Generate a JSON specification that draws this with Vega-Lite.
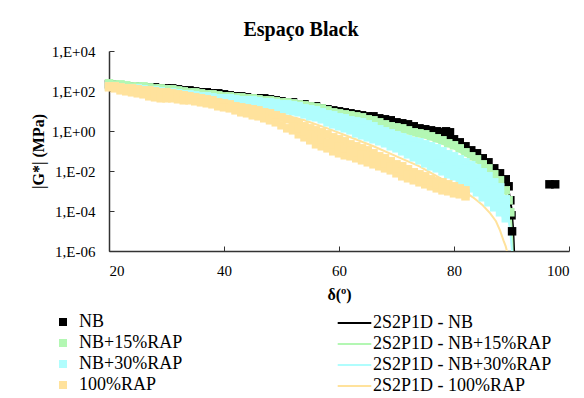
{
"$schema":"https://vega.github.io/schema/vega-lite/v6.json",
"autosize":{"type":"none"},
"padding":{"left":109,"top":51,"right":15,"bottom":147},
"width":460,"height":200,
"title":{"text":"Espaço Black","font":"Liberation Serif","fontSize":20,"fontWeight":"bold","color":"#000","anchor":"middle","frame":"group","dx":-38,"baseline":"alphabetic","offset":-12},
"config":{"font":"Liberation Serif","view":{"stroke":null},
 "style":{"guide-label":{"font":"Liberation Serif"},"guide-title":{"font":"Liberation Serif"}},
 "axis":{"labelFont":"Liberation Serif","titleFont":"Liberation Serif","labelColor":"#000","titleColor":"#000","domainColor":"#333","tickColor":"#333","domainWidth":1.5,"grid":false,"labelFontSize":15,"titleFontSize":16,"titleFontWeight":"bold"},
 "legend":{"labelFont":"Liberation Serif","labelFontSize":18,"labelColor":"#000","labelLimit":400}},
"datasets":{
"pts":[
{"series":"NB","delta":20,"G":216},{"series":"NB","delta":21,"G":216},{"series":"NB","delta":22,"G":193},{"series":"NB","delta":23,"G":172},{"series":"NB","delta":24,"G":172},{"series":"NB","delta":25,"G":172},{"series":"NB","delta":26,"G":153},{"series":"NB","delta":27,"G":153},{"series":"NB","delta":28,"G":153},{"series":"NB","delta":29,"G":136},{"series":"NB","delta":30,"G":136},{"series":"NB","delta":31,"G":136},{"series":"NB","delta":32,"G":122},{"series":"NB","delta":33,"G":108},{"series":"NB","delta":34,"G":108},{"series":"NB","delta":35,"G":96.6},{"series":"NB","delta":36,"G":86.1},{"series":"NB","delta":37,"G":86.1},{"series":"NB","delta":38,"G":76.7},{"series":"NB","delta":39,"G":76.7},{"series":"NB","delta":40,"G":68.4},{"series":"NB","delta":41,"G":61.0},{"series":"NB","delta":42,"G":54.3},{"series":"NB","delta":43,"G":54.3},{"series":"NB","delta":44,"G":48.4},{"series":"NB","delta":45,"G":43.2},{"series":"NB","delta":46,"G":43.2},{"series":"NB","delta":47,"G":43.2},{"series":"NB","delta":48,"G":38.5},{"series":"NB","delta":49,"G":34.3},{"series":"NB","delta":50,"G":30.6},{"series":"NB","delta":51,"G":27.2},{"series":"NB","delta":52,"G":27.2},{"series":"NB","delta":53,"G":21.6},{"series":"NB","delta":54,"G":21.6},{"series":"NB","delta":55,"G":17.2},{"series":"NB","delta":56,"G":17.2},{"series":"NB","delta":57,"G":13.6},{"series":"NB","delta":58,"G":12.2},{"series":"NB","delta":59,"G":10.8},{"series":"NB","delta":60,"G":9.66},{"series":"NB","delta":61,"G":8.61},{"series":"NB","delta":62,"G":7.67},{"series":"NB","delta":63,"G":6.84},{"series":"NB","delta":64,"G":6.10},{"series":"NB","delta":65,"G":5.43},{"series":"NB","delta":66,"G":5.43},{"series":"NB","delta":67,"G":4.32},{"series":"NB","delta":68,"G":3.85},{"series":"NB","delta":69,"G":3.43},{"series":"NB","delta":70,"G":2.72},{"series":"NB","delta":71,"G":2.43},{"series":"NB","delta":72,"G":2.16},{"series":"NB","delta":73,"G":1.72},{"series":"NB","delta":74,"G":1.36},{"series":"NB","delta":75,"G":1.22},{"series":"NB","delta":76,"G":1.08},{"series":"NB","delta":77,"G":0.966},{"series":"NB","delta":78,"G":0.861},{"series":"NB","delta":78.6,"G":0.966},{"series":"NB","delta":79.3,"G":0.861},{"series":"NB","delta":79,"G":0.543},{"series":"NB","delta":80,"G":0.385},{"series":"NB","delta":81,"G":0.272},{"series":"NB","delta":82,"G":0.172},{"series":"NB","delta":83,"G":0.108},{"series":"NB","delta":84,"G":0.0767},{"series":"NB","delta":85,"G":0.0432},{"series":"NB","delta":86,"G":0.0272},{"series":"NB","delta":87,"G":0.0136},{"series":"NB","delta":88,"G":0.00767},{"series":"NB","delta":89,"G":0.00385},{"series":"NB","delta":89.5,"G":0.00172},{"series":"NB","delta":89.8,"G":3.43e-4},{"series":"NB","delta":90,"G":6.10e-5},{"series":"NB","delta":90.1,"G":9.66e-6},{"series":"NB","delta":96.6,"G":0.00216},{"series":"NB","delta":97.6,"G":0.00216},
{"series":"NB+15%RAP","delta":20,"G":243},{"series":"NB+15%RAP","delta":21,"G":216},{"series":"NB+15%RAP","delta":22,"G":216},{"series":"NB+15%RAP","delta":23,"G":193},{"series":"NB+15%RAP","delta":24,"G":172},{"series":"NB+15%RAP","delta":25,"G":172},{"series":"NB+15%RAP","delta":26,"G":172},{"series":"NB+15%RAP","delta":27,"G":153},{"series":"NB+15%RAP","delta":28,"G":136},{"series":"NB+15%RAP","delta":29,"G":136},{"series":"NB+15%RAP","delta":30,"G":122},{"series":"NB+15%RAP","delta":31,"G":122},{"series":"NB+15%RAP","delta":32,"G":108},{"series":"NB+15%RAP","delta":33,"G":96.6},{"series":"NB+15%RAP","delta":34,"G":86.1},{"series":"NB+15%RAP","delta":35,"G":86.1},{"series":"NB+15%RAP","delta":36,"G":76.7},{"series":"NB+15%RAP","delta":37,"G":68.4},{"series":"NB+15%RAP","delta":38,"G":68.4},{"series":"NB+15%RAP","delta":39,"G":61.0},{"series":"NB+15%RAP","delta":40,"G":54.3},{"series":"NB+15%RAP","delta":41,"G":54.3},{"series":"NB+15%RAP","delta":42,"G":48.4},{"series":"NB+15%RAP","delta":43,"G":48.4},{"series":"NB+15%RAP","delta":44,"G":43.2},{"series":"NB+15%RAP","delta":45,"G":43.2},{"series":"NB+15%RAP","delta":46,"G":38.5},{"series":"NB+15%RAP","delta":47,"G":34.3},{"series":"NB+15%RAP","delta":48,"G":34.3},{"series":"NB+15%RAP","delta":49,"G":30.6},{"series":"NB+15%RAP","delta":50,"G":27.2},{"series":"NB+15%RAP","delta":51,"G":27.2},{"series":"NB+15%RAP","delta":52,"G":24.3},{"series":"NB+15%RAP","delta":53,"G":21.6},{"series":"NB+15%RAP","delta":54,"G":19.3},{"series":"NB+15%RAP","delta":55,"G":17.2},{"series":"NB+15%RAP","delta":56,"G":15.3},{"series":"NB+15%RAP","delta":57,"G":13.6},{"series":"NB+15%RAP","delta":58,"G":10.8},{"series":"NB+15%RAP","delta":59,"G":8.61},{"series":"NB+15%RAP","delta":60,"G":7.67},{"series":"NB+15%RAP","delta":61,"G":6.84},{"series":"NB+15%RAP","delta":62,"G":6.10},{"series":"NB+15%RAP","delta":63,"G":5.43},{"series":"NB+15%RAP","delta":64,"G":4.84},{"series":"NB+15%RAP","delta":65,"G":3.85},{"series":"NB+15%RAP","delta":66,"G":3.43},{"series":"NB+15%RAP","delta":67,"G":2.72},{"series":"NB+15%RAP","delta":68,"G":2.16},{"series":"NB+15%RAP","delta":69,"G":1.72},{"series":"NB+15%RAP","delta":70,"G":1.53},{"series":"NB+15%RAP","delta":71,"G":1.36},{"series":"NB+15%RAP","delta":72,"G":1.08},{"series":"NB+15%RAP","delta":73,"G":0.861},{"series":"NB+15%RAP","delta":74,"G":0.767},{"series":"NB+15%RAP","delta":75,"G":0.684},{"series":"NB+15%RAP","delta":76,"G":0.543},{"series":"NB+15%RAP","delta":77,"G":0.432},{"series":"NB+15%RAP","delta":78,"G":0.343},{"series":"NB+15%RAP","delta":79,"G":0.243},{"series":"NB+15%RAP","delta":80,"G":0.193},{"series":"NB+15%RAP","delta":81,"G":0.136},{"series":"NB+15%RAP","delta":82,"G":0.0861},{"series":"NB+15%RAP","delta":83,"G":0.0543},{"series":"NB+15%RAP","delta":84,"G":0.0385},{"series":"NB+15%RAP","delta":85,"G":0.0216},{"series":"NB+15%RAP","delta":86,"G":0.0136},{"series":"NB+15%RAP","delta":87,"G":0.00684},{"series":"NB+15%RAP","delta":88,"G":0.00343},{"series":"NB+15%RAP","delta":89,"G":0.00108},{"series":"NB+15%RAP","delta":89.5,"G":3.43e-4},{"series":"NB+15%RAP","delta":89.8,"G":8.61e-5},
{"series":"NB+30%RAP","delta":20,"G":172},{"series":"NB+30%RAP","delta":21,"G":172},{"series":"NB+30%RAP","delta":22,"G":153},{"series":"NB+30%RAP","delta":23,"G":136},{"series":"NB+30%RAP","delta":24,"G":136},{"series":"NB+30%RAP","delta":25,"G":136},{"series":"NB+30%RAP","delta":26,"G":122},{"series":"NB+30%RAP","delta":27,"G":108},{"series":"NB+30%RAP","delta":28,"G":108},{"series":"NB+30%RAP","delta":29,"G":96.6},{"series":"NB+30%RAP","delta":30,"G":86.1},{"series":"NB+30%RAP","delta":31,"G":86.1},{"series":"NB+30%RAP","delta":32,"G":76.7},{"series":"NB+30%RAP","delta":33,"G":68.4},{"series":"NB+30%RAP","delta":34,"G":68.4},{"series":"NB+30%RAP","delta":35,"G":61.0},{"series":"NB+30%RAP","delta":36,"G":54.3},{"series":"NB+30%RAP","delta":37,"G":54.3},{"series":"NB+30%RAP","delta":38,"G":48.4},{"series":"NB+30%RAP","delta":39,"G":43.2},{"series":"NB+30%RAP","delta":40,"G":43.2},{"series":"NB+30%RAP","delta":41,"G":43.2},{"series":"NB+30%RAP","delta":42,"G":38.5},{"series":"NB+30%RAP","delta":43,"G":34.3},{"series":"NB+30%RAP","delta":44,"G":34.3},{"series":"NB+30%RAP","delta":45,"G":34.3},{"series":"NB+30%RAP","delta":46,"G":30.6},{"series":"NB+30%RAP","delta":47,"G":27.2},{"series":"NB+30%RAP","delta":48,"G":27.2},{"series":"NB+30%RAP","delta":49,"G":24.3},{"series":"NB+30%RAP","delta":50,"G":21.6},{"series":"NB+30%RAP","delta":51,"G":21.6},{"series":"NB+30%RAP","delta":52,"G":19.3},{"series":"NB+30%RAP","delta":53,"G":17.2},{"series":"NB+30%RAP","delta":54,"G":13.6},{"series":"NB+30%RAP","delta":55,"G":12.2},{"series":"NB+30%RAP","delta":56,"G":10.8},{"series":"NB+30%RAP","delta":57,"G":8.61},{"series":"NB+30%RAP","delta":58,"G":6.84},{"series":"NB+30%RAP","delta":59,"G":6.10},{"series":"NB+30%RAP","delta":60,"G":4.84},{"series":"NB+30%RAP","delta":61,"G":4.32},{"series":"NB+30%RAP","delta":62,"G":3.43},{"series":"NB+30%RAP","delta":63,"G":3.06},{"series":"NB+30%RAP","delta":64,"G":2.72},{"series":"NB+30%RAP","delta":65,"G":2.16},{"series":"NB+30%RAP","delta":66,"G":1.72},{"series":"NB+30%RAP","delta":67,"G":1.22},{"series":"NB+30%RAP","delta":68,"G":0.966},{"series":"NB+30%RAP","delta":69,"G":0.767},{"series":"NB+30%RAP","delta":70,"G":0.610},{"series":"NB+30%RAP","delta":71,"G":0.484},{"series":"NB+30%RAP","delta":72,"G":0.385},{"series":"NB+30%RAP","delta":73,"G":0.306},{"series":"NB+30%RAP","delta":74,"G":0.272},{"series":"NB+30%RAP","delta":75,"G":0.216},{"series":"NB+30%RAP","delta":76,"G":0.172},{"series":"NB+30%RAP","delta":77,"G":0.136},{"series":"NB+30%RAP","delta":78,"G":0.0966},{"series":"NB+30%RAP","delta":79,"G":0.0684},{"series":"NB+30%RAP","delta":80,"G":0.0543},{"series":"NB+30%RAP","delta":81,"G":0.0385},{"series":"NB+30%RAP","delta":82,"G":0.0272},{"series":"NB+30%RAP","delta":83,"G":0.0193},{"series":"NB+30%RAP","delta":84,"G":0.0136},{"series":"NB+30%RAP","delta":85,"G":0.00861},{"series":"NB+30%RAP","delta":86,"G":0.00543},{"series":"NB+30%RAP","delta":87,"G":0.00272},{"series":"NB+30%RAP","delta":88,"G":0.00153},{"series":"NB+30%RAP","delta":89,"G":3.85e-4},
{"series":"NB+30%RAP","delta":36,"G":48.4},{"series":"NB+30%RAP","delta":37,"G":43.2},{"series":"NB+30%RAP","delta":38,"G":43.2},{"series":"NB+30%RAP","delta":39,"G":38.5},{"series":"NB+30%RAP","delta":40,"G":30.6},{"series":"NB+30%RAP","delta":41,"G":27.2},{"series":"NB+30%RAP","delta":42,"G":27.2},{"series":"NB+30%RAP","delta":43,"G":24.3},{"series":"NB+30%RAP","delta":44,"G":21.6},{"series":"NB+30%RAP","delta":45,"G":19.3},{"series":"NB+30%RAP","delta":46,"G":17.2},{"series":"NB+30%RAP","delta":47,"G":17.2},{"series":"NB+30%RAP","delta":48,"G":15.3},{"series":"NB+30%RAP","delta":49,"G":13.6},{"series":"NB+30%RAP","delta":50,"G":12.2},{"series":"NB+30%RAP","delta":51,"G":10.8},{"series":"NB+30%RAP","delta":52,"G":9.66},{"series":"NB+30%RAP","delta":53,"G":8.61},{"series":"NB+30%RAP","delta":54,"G":6.84},{"series":"NB+30%RAP","delta":55,"G":5.43},{"series":"NB+30%RAP","delta":56,"G":4.84},{"series":"NB+30%RAP","delta":57,"G":3.85},{"series":"NB+30%RAP","delta":58,"G":2.72},{"series":"NB+30%RAP","delta":59,"G":2.16},{"series":"NB+30%RAP","delta":60,"G":1.72},{"series":"NB+30%RAP","delta":61,"G":1.36},{"series":"NB+30%RAP","delta":62,"G":1.08},{"series":"NB+30%RAP","delta":63,"G":0.767},{"series":"NB+30%RAP","delta":64,"G":0.610},{"series":"NB+30%RAP","delta":65,"G":0.484},{"series":"NB+30%RAP","delta":66,"G":0.385},{"series":"NB+30%RAP","delta":67,"G":0.306},{"series":"NB+30%RAP","delta":68,"G":0.243},{"series":"NB+30%RAP","delta":69,"G":0.172},{"series":"NB+30%RAP","delta":70,"G":0.136},{"series":"NB+30%RAP","delta":71,"G":0.0966},{"series":"NB+30%RAP","delta":72,"G":0.0684},{"series":"NB+30%RAP","delta":73,"G":0.0484},{"series":"NB+30%RAP","delta":74,"G":0.0343},{"series":"NB+30%RAP","delta":75,"G":0.0243},{"series":"NB+30%RAP","delta":76,"G":0.0172},{"series":"NB+30%RAP","delta":77,"G":0.0136},{"series":"NB+30%RAP","delta":78,"G":0.00966},{"series":"NB+30%RAP","delta":79,"G":0.00684},{"series":"NB+30%RAP","delta":80,"G":0.00543},{"series":"NB+30%RAP","delta":81,"G":0.00343},{"series":"NB+30%RAP","delta":82,"G":0.00216},{"series":"NB+30%RAP","delta":83,"G":0.00136},{"series":"NB+30%RAP","delta":84,"G":8.61e-4},{"series":"NB+30%RAP","delta":85,"G":4.84e-4},{"series":"NB+30%RAP","delta":86,"G":2.72e-4},{"series":"NB+30%RAP","delta":87,"G":1.53e-4},{"series":"NB+30%RAP","delta":88,"G":8.61e-5},{"series":"NB+30%RAP","delta":89,"G":4.32e-5},
{"series":"NB+30%RAP","delta":60,"G":2.72},{"series":"NB+30%RAP","delta":61,"G":2.43},{"series":"NB+30%RAP","delta":62,"G":1.93},{"series":"NB+30%RAP","delta":63,"G":1.53},{"series":"NB+30%RAP","delta":64,"G":1.36},{"series":"NB+30%RAP","delta":65,"G":0.966},{"series":"NB+30%RAP","delta":66,"G":0.767},{"series":"NB+30%RAP","delta":67,"G":0.610},{"series":"NB+30%RAP","delta":68,"G":0.484},{"series":"NB+30%RAP","delta":69,"G":0.385},{"series":"NB+30%RAP","delta":70,"G":0.272},{"series":"NB+30%RAP","delta":71,"G":0.216},{"series":"NB+30%RAP","delta":72,"G":0.172},{"series":"NB+30%RAP","delta":73,"G":0.122},{"series":"NB+30%RAP","delta":74,"G":0.0966},{"series":"NB+30%RAP","delta":75,"G":0.0684},{"series":"NB+30%RAP","delta":76,"G":0.0543},{"series":"NB+30%RAP","delta":77,"G":0.0432},{"series":"NB+30%RAP","delta":78,"G":0.0306},{"series":"NB+30%RAP","delta":79,"G":0.0216},{"series":"NB+30%RAP","delta":80,"G":0.0172},{"series":"NB+30%RAP","delta":81,"G":0.0108},{"series":"NB+30%RAP","delta":82,"G":0.00767},{"series":"NB+30%RAP","delta":83,"G":0.00543},{"series":"NB+30%RAP","delta":84,"G":0.00343},{"series":"NB+30%RAP","delta":85,"G":0.00216},{"series":"NB+30%RAP","delta":86,"G":0.00122},{"series":"NB+30%RAP","delta":87,"G":6.84e-4},{"series":"NB+30%RAP","delta":88,"G":3.43e-4},{"series":"NB+30%RAP","delta":89,"G":1.36e-4},
{"series":"NB+30%RAP","delta":70,"G":0.432},{"series":"NB+30%RAP","delta":71,"G":0.343},{"series":"NB+30%RAP","delta":72,"G":0.272},{"series":"NB+30%RAP","delta":73,"G":0.193},{"series":"NB+30%RAP","delta":74,"G":0.172},{"series":"NB+30%RAP","delta":75,"G":0.122},{"series":"NB+30%RAP","delta":76,"G":0.0966},{"series":"NB+30%RAP","delta":77,"G":0.0767},{"series":"NB+30%RAP","delta":78,"G":0.0543},{"series":"NB+30%RAP","delta":79,"G":0.0385},{"series":"NB+30%RAP","delta":80,"G":0.0306},{"series":"NB+30%RAP","delta":81,"G":0.0216},{"series":"NB+30%RAP","delta":82,"G":0.0136},{"series":"NB+30%RAP","delta":83,"G":0.0108},{"series":"NB+30%RAP","delta":84,"G":0.00684},{"series":"NB+30%RAP","delta":85,"G":0.00432},{"series":"NB+30%RAP","delta":86,"G":0.00272},{"series":"NB+30%RAP","delta":87,"G":0.00136},{"series":"NB+30%RAP","delta":88,"G":6.84e-4},{"series":"NB+30%RAP","delta":89,"G":2.16e-4},
{"series":"NB+30%RAP","delta":70,"G":0.193},{"series":"NB+30%RAP","delta":71,"G":0.136},{"series":"NB+30%RAP","delta":72,"G":0.108},{"series":"NB+30%RAP","delta":73,"G":0.0767},{"series":"NB+30%RAP","delta":74,"G":0.0543},{"series":"NB+30%RAP","delta":75,"G":0.0432},{"series":"NB+30%RAP","delta":76,"G":0.0306},{"series":"NB+30%RAP","delta":77,"G":0.0243},{"series":"NB+30%RAP","delta":78,"G":0.0172},{"series":"NB+30%RAP","delta":79,"G":0.0122},{"series":"NB+30%RAP","delta":80,"G":0.00966},{"series":"NB+30%RAP","delta":81,"G":0.00610},{"series":"NB+30%RAP","delta":82,"G":0.00432},{"series":"NB+30%RAP","delta":83,"G":0.00272},{"series":"NB+30%RAP","delta":84,"G":0.00172},{"series":"NB+30%RAP","delta":85,"G":0.00108},{"series":"NB+30%RAP","delta":86,"G":5.43e-4},{"series":"NB+30%RAP","delta":87,"G":3.43e-4},{"series":"NB+30%RAP","delta":88,"G":1.72e-4},{"series":"NB+30%RAP","delta":89,"G":7.67e-5},
{"series":"100%RAP","delta":20,"G":172},{"series":"100%RAP","delta":21,"G":172},{"series":"100%RAP","delta":22,"G":153},{"series":"100%RAP","delta":23,"G":136},{"series":"100%RAP","delta":24,"G":136},{"series":"100%RAP","delta":25,"G":122},{"series":"100%RAP","delta":26,"G":108},{"series":"100%RAP","delta":27,"G":108},{"series":"100%RAP","delta":28,"G":96.6},{"series":"100%RAP","delta":29,"G":86.1},{"series":"100%RAP","delta":30,"G":86.1},{"series":"100%RAP","delta":31,"G":76.7},{"series":"100%RAP","delta":32,"G":68.4},{"series":"100%RAP","delta":33,"G":61.0},{"series":"100%RAP","delta":34,"G":54.3},{"series":"100%RAP","delta":35,"G":48.4},{"series":"100%RAP","delta":36,"G":43.2},{"series":"100%RAP","delta":37,"G":38.5},{"series":"100%RAP","delta":38,"G":34.3},{"series":"100%RAP","delta":39,"G":27.2},{"series":"100%RAP","delta":40,"G":24.3},{"series":"100%RAP","delta":41,"G":21.6},{"series":"100%RAP","delta":42,"G":17.2},{"series":"100%RAP","delta":43,"G":15.3},{"series":"100%RAP","delta":44,"G":13.6},{"series":"100%RAP","delta":45,"G":12.2},{"series":"100%RAP","delta":46,"G":10.8},{"series":"100%RAP","delta":47,"G":8.61},{"series":"100%RAP","delta":48,"G":7.67},{"series":"100%RAP","delta":49,"G":6.10},{"series":"100%RAP","delta":50,"G":4.84},{"series":"100%RAP","delta":51,"G":3.85},{"series":"100%RAP","delta":52,"G":3.06},{"series":"100%RAP","delta":53,"G":2.43},{"series":"100%RAP","delta":54,"G":1.72},{"series":"100%RAP","delta":55,"G":1.36},{"series":"100%RAP","delta":56,"G":1.08},{"series":"100%RAP","delta":57,"G":0.861},{"series":"100%RAP","delta":58,"G":0.684},{"series":"100%RAP","delta":59,"G":0.484},{"series":"100%RAP","delta":60,"G":0.385},{"series":"100%RAP","delta":61,"G":0.306},{"series":"100%RAP","delta":62,"G":0.216},{"series":"100%RAP","delta":63,"G":0.172},{"series":"100%RAP","delta":64,"G":0.136},{"series":"100%RAP","delta":65,"G":0.108},{"series":"100%RAP","delta":66,"G":0.0767},{"series":"100%RAP","delta":67,"G":0.0543},{"series":"100%RAP","delta":68,"G":0.0432},{"series":"100%RAP","delta":69,"G":0.0306},{"series":"100%RAP","delta":70,"G":0.0216},{"series":"100%RAP","delta":71,"G":0.0172},{"series":"100%RAP","delta":72,"G":0.0122},{"series":"100%RAP","delta":73,"G":0.00861},{"series":"100%RAP","delta":74,"G":0.00684},{"series":"100%RAP","delta":75,"G":0.00543},{"series":"100%RAP","delta":76,"G":0.00385},{"series":"100%RAP","delta":77,"G":0.00306},{"series":"100%RAP","delta":78,"G":0.00272},{"series":"100%RAP","delta":79,"G":0.00216},{"series":"100%RAP","delta":80,"G":0.00172},{"series":"100%RAP","delta":81,"G":0.00136},{"series":"100%RAP","delta":82,"G":0.00108},
{"series":"100%RAP","delta":20,"G":153},{"series":"100%RAP","delta":21,"G":136},{"series":"100%RAP","delta":22,"G":108},{"series":"100%RAP","delta":23,"G":96.6},{"series":"100%RAP","delta":24,"G":86.1},{"series":"100%RAP","delta":25,"G":76.7},{"series":"100%RAP","delta":26,"G":68.4},{"series":"100%RAP","delta":27,"G":54.3},{"series":"100%RAP","delta":28,"G":48.4},{"series":"100%RAP","delta":29,"G":43.2},{"series":"100%RAP","delta":30,"G":43.2},{"series":"100%RAP","delta":31,"G":43.2},{"series":"100%RAP","delta":32,"G":38.5},{"series":"100%RAP","delta":33,"G":34.3},{"series":"100%RAP","delta":34,"G":34.3},{"series":"100%RAP","delta":35,"G":30.6},{"series":"100%RAP","delta":36,"G":27.2},{"series":"100%RAP","delta":37,"G":24.3},{"series":"100%RAP","delta":38,"G":21.6},{"series":"100%RAP","delta":39,"G":17.2},{"series":"100%RAP","delta":40,"G":15.3},{"series":"100%RAP","delta":41,"G":13.6},{"series":"100%RAP","delta":42,"G":10.8},{"series":"100%RAP","delta":43,"G":8.61},{"series":"100%RAP","delta":44,"G":7.67},{"series":"100%RAP","delta":45,"G":6.10},{"series":"100%RAP","delta":46,"G":5.43},{"series":"100%RAP","delta":47,"G":4.32},{"series":"100%RAP","delta":48,"G":3.43},{"series":"100%RAP","delta":49,"G":2.72},{"series":"100%RAP","delta":50,"G":1.93},{"series":"100%RAP","delta":51,"G":1.36},{"series":"100%RAP","delta":52,"G":1.08},{"series":"100%RAP","delta":53,"G":0.684},{"series":"100%RAP","delta":54,"G":0.484},{"series":"100%RAP","delta":55,"G":0.343},{"series":"100%RAP","delta":56,"G":0.216},{"series":"100%RAP","delta":57,"G":0.172},{"series":"100%RAP","delta":58,"G":0.136},{"series":"100%RAP","delta":59,"G":0.0966},{"series":"100%RAP","delta":60,"G":0.0767},{"series":"100%RAP","delta":61,"G":0.0610},{"series":"100%RAP","delta":62,"G":0.0543},{"series":"100%RAP","delta":63,"G":0.0432},{"series":"100%RAP","delta":64,"G":0.0343},{"series":"100%RAP","delta":65,"G":0.0272},{"series":"100%RAP","delta":66,"G":0.0216},{"series":"100%RAP","delta":67,"G":0.0172},{"series":"100%RAP","delta":68,"G":0.0136},{"series":"100%RAP","delta":69,"G":0.0108},{"series":"100%RAP","delta":70,"G":0.00767},{"series":"100%RAP","delta":71,"G":0.00543},{"series":"100%RAP","delta":72,"G":0.00432},{"series":"100%RAP","delta":73,"G":0.00343},{"series":"100%RAP","delta":74,"G":0.00272},{"series":"100%RAP","delta":75,"G":0.00216},{"series":"100%RAP","delta":76,"G":0.00172},{"series":"100%RAP","delta":77,"G":0.00136},{"series":"100%RAP","delta":78,"G":0.00108},{"series":"100%RAP","delta":79,"G":9.66e-4},{"series":"100%RAP","delta":80,"G":7.67e-4},{"series":"100%RAP","delta":81,"G":6.84e-4},{"series":"100%RAP","delta":82,"G":5.43e-4},
{"series":"100%RAP","delta":52,"G":1.72},{"series":"100%RAP","delta":53,"G":1.36},{"series":"100%RAP","delta":54,"G":0.966},{"series":"100%RAP","delta":55,"G":0.684},{"series":"100%RAP","delta":56,"G":0.484},{"series":"100%RAP","delta":57,"G":0.385},{"series":"100%RAP","delta":58,"G":0.272},{"series":"100%RAP","delta":59,"G":0.216},{"series":"100%RAP","delta":60,"G":0.172},{"series":"100%RAP","delta":61,"G":0.136},{"series":"100%RAP","delta":62,"G":0.108},{"series":"100%RAP","delta":63,"G":0.0861},{"series":"100%RAP","delta":64,"G":0.0684},{"series":"100%RAP","delta":65,"G":0.0543},{"series":"100%RAP","delta":66,"G":0.0432},{"series":"100%RAP","delta":67,"G":0.0306},{"series":"100%RAP","delta":68,"G":0.0243},{"series":"100%RAP","delta":69,"G":0.0172},{"series":"100%RAP","delta":70,"G":0.0136},{"series":"100%RAP","delta":71,"G":0.00966},{"series":"100%RAP","delta":72,"G":0.00684},{"series":"100%RAP","delta":73,"G":0.00543},{"series":"100%RAP","delta":74,"G":0.00432},{"series":"100%RAP","delta":75,"G":0.00343},{"series":"100%RAP","delta":76,"G":0.00272},{"series":"100%RAP","delta":77,"G":0.00216},{"series":"100%RAP","delta":78,"G":0.00172},{"series":"100%RAP","delta":79,"G":0.00136},{"series":"100%RAP","delta":80,"G":0.00108},{"series":"100%RAP","delta":81,"G":9.66e-4},{"series":"100%RAP","delta":82,"G":7.67e-4}
],
"lines":[
{"model":"2S2P1D - NB","delta":20,"G":172},{"model":"2S2P1D - NB","delta":30,"G":108},{"model":"2S2P1D - NB","delta":40,"G":54.3},{"model":"2S2P1D - NB","delta":50,"G":24.3},{"model":"2S2P1D - NB","delta":56,"G":13.6},{"model":"2S2P1D - NB","delta":60,"G":7.67},{"model":"2S2P1D - NB","delta":64,"G":4.84},{"model":"2S2P1D - NB","delta":68,"G":3.06},{"model":"2S2P1D - NB","delta":72,"G":1.53},{"model":"2S2P1D - NB","delta":76,"G":0.861},{"model":"2S2P1D - NB","delta":80,"G":0.306},{"model":"2S2P1D - NB","delta":84,"G":0.0610},{"model":"2S2P1D - NB","delta":86,"G":0.0216},{"model":"2S2P1D - NB","delta":88,"G":0.00610},{"model":"2S2P1D - NB","delta":89,"G":0.00272},{"model":"2S2P1D - NB","delta":89.5,"G":0.00108},{"model":"2S2P1D - NB","delta":90,"G":1.36e-4},{"model":"2S2P1D - NB","delta":90.3,"G":1.08e-5},{"model":"2S2P1D - NB","delta":90.45,"G":1e-6},
{"model":"2S2P1D - NB+15%RAP","delta":20,"G":193},{"model":"2S2P1D - NB+15%RAP","delta":30,"G":96.6},{"model":"2S2P1D - NB+15%RAP","delta":40,"G":43.2},{"model":"2S2P1D - NB+15%RAP","delta":50,"G":21.6},{"model":"2S2P1D - NB+15%RAP","delta":56,"G":10.8},{"model":"2S2P1D - NB+15%RAP","delta":60,"G":5.43},{"model":"2S2P1D - NB+15%RAP","delta":64,"G":3.43},{"model":"2S2P1D - NB+15%RAP","delta":68,"G":1.53},{"model":"2S2P1D - NB+15%RAP","delta":72,"G":0.767},{"model":"2S2P1D - NB+15%RAP","delta":76,"G":0.385},{"model":"2S2P1D - NB+15%RAP","delta":80,"G":0.136},{"model":"2S2P1D - NB+15%RAP","delta":84,"G":0.0272},{"model":"2S2P1D - NB+15%RAP","delta":86,"G":0.00966},{"model":"2S2P1D - NB+15%RAP","delta":88,"G":0.00243},{"model":"2S2P1D - NB+15%RAP","delta":89,"G":7.67e-4},{"model":"2S2P1D - NB+15%RAP","delta":89.5,"G":2.43e-4},{"model":"2S2P1D - NB+15%RAP","delta":89.9,"G":4.32e-5},{"model":"2S2P1D - NB+15%RAP","delta":90.1,"G":6.10e-6},{"model":"2S2P1D - NB+15%RAP","delta":90.2,"G":1e-6},
{"model":"2S2P1D - NB+30%RAP","delta":20,"G":172},{"model":"2S2P1D - NB+30%RAP","delta":30,"G":86.1},{"model":"2S2P1D - NB+30%RAP","delta":40,"G":34.3},{"model":"2S2P1D - NB+30%RAP","delta":50,"G":13.6},{"model":"2S2P1D - NB+30%RAP","delta":56,"G":7.67},{"model":"2S2P1D - NB+30%RAP","delta":60,"G":3.06},{"model":"2S2P1D - NB+30%RAP","delta":64,"G":1.36},{"model":"2S2P1D - NB+30%RAP","delta":68,"G":0.484},{"model":"2S2P1D - NB+30%RAP","delta":72,"G":0.172},{"model":"2S2P1D - NB+30%RAP","delta":76,"G":0.0543},{"model":"2S2P1D - NB+30%RAP","delta":80,"G":0.0172},{"model":"2S2P1D - NB+30%RAP","delta":84,"G":0.00343},{"model":"2S2P1D - NB+30%RAP","delta":86,"G":0.00122},{"model":"2S2P1D - NB+30%RAP","delta":88,"G":3.43e-4},{"model":"2S2P1D - NB+30%RAP","delta":89,"G":1.08e-4},{"model":"2S2P1D - NB+30%RAP","delta":89.5,"G":3.43e-5},{"model":"2S2P1D - NB+30%RAP","delta":89.8,"G":8.61e-6},{"model":"2S2P1D - NB+30%RAP","delta":90,"G":1.93e-6},{"model":"2S2P1D - NB+30%RAP","delta":90.1,"G":1e-6},
{"model":"2S2P1D - 100%RAP","delta":20,"G":216},{"model":"2S2P1D - 100%RAP","delta":25,"G":153},{"model":"2S2P1D - 100%RAP","delta":30,"G":96.6},{"model":"2S2P1D - 100%RAP","delta":35,"G":54.3},{"model":"2S2P1D - 100%RAP","delta":40,"G":30.6},{"model":"2S2P1D - 100%RAP","delta":45,"G":15.3},{"model":"2S2P1D - 100%RAP","delta":50,"G":6.84},{"model":"2S2P1D - 100%RAP","delta":54,"G":3.43},{"model":"2S2P1D - 100%RAP","delta":58,"G":1.36},{"model":"2S2P1D - 100%RAP","delta":62,"G":0.484},{"model":"2S2P1D - 100%RAP","delta":66,"G":0.172},{"model":"2S2P1D - 100%RAP","delta":70,"G":0.0543},{"model":"2S2P1D - 100%RAP","delta":74,"G":0.0172},{"model":"2S2P1D - 100%RAP","delta":78,"G":0.00385},{"model":"2S2P1D - 100%RAP","delta":81,"G":0.00136},{"model":"2S2P1D - 100%RAP","delta":83.3,"G":4.84e-4},{"model":"2S2P1D - 100%RAP","delta":85,"G":1.93e-4},{"model":"2S2P1D - 100%RAP","delta":86.3,"G":7.67e-5},{"model":"2S2P1D - 100%RAP","delta":87.3,"G":3.06e-5},{"model":"2S2P1D - 100%RAP","delta":88,"G":1.08e-5},{"model":"2S2P1D - 100%RAP","delta":88.6,"G":3.43e-6},{"model":"2S2P1D - 100%RAP","delta":89,"G":1.7e-6},{"model":"2S2P1D - 100%RAP","delta":89.2,"G":1e-6}
]},
"layer":[
{"data":{"name":"lines"},"mark":{"type":"line","strokeWidth":2,"clip":true},
 "encoding":{
  "x":{"field":"delta","type":"quantitative","scale":{"domain":[20,100],"nice":false},
   "axis":{"values":[20,40,60,80,100],"title":"δ(º)","tickSize":-5,"labelPadding":17,"titlePadding":8,"labelFont":"Liberation Serif","titleFont":"Liberation Serif"}},
  "y":{"field":"G","type":"quantitative","scale":{"type":"log","domain":[1e-6,10000],"nice":false},
   "axis":{"values":[1e-6,1e-4,0.01,1,100,10000],"title":"|G*| (MPa)","tickSize":-5,"labelPadding":19,"titlePadding":5,"labelFont":"Liberation Serif","titleFont":"Liberation Serif",
    "labelExpr":"'1,E' + (datum.value >= 1 ? '+' : '-') + '0' + abs(round(log(datum.value)/LN10))"}},
  "stroke":{"field":"model","type":"nominal",
   "scale":{"domain":["2S2P1D - NB","2S2P1D - NB+15%RAP","2S2P1D - NB+30%RAP","2S2P1D - 100%RAP"],"range":["#000000","#b3f7b3","#b0fdfd","#ffe29c"]},
   "legend":{"title":null,"orient":"none","legendX":234,"legendY":260.5,"direction":"vertical","symbolType":"M-1.6,0H1.6","symbolSize":441,"symbolStrokeWidth":2,"labelOffset":7,"rowPadding":0,"padding":0,"labelLimit":400}},
  "order":{"field":"delta","type":"quantitative"}}},
{"data":{"name":"pts"},"mark":{"type":"point","shape":"square","filled":true,"size":72,"opacity":1,"strokeWidth":0},
 "encoding":{
  "x":{"field":"delta","type":"quantitative"},
  "y":{"field":"G","type":"quantitative"},
  "color":{"field":"series","type":"nominal",
   "scale":{"domain":["NB","NB+15%RAP","NB+30%RAP","100%RAP"],"range":["#000000","#b3f7b3","#b0fdfd","#ffe29c"]},
   "legend":{"title":null,"orient":"none","legendX":-55,"legendY":262,"direction":"vertical","symbolType":"square","symbolSize":64,"symbolStrokeWidth":0,"labelOffset":7,"rowPadding":3,"padding":0,"labelLimit":400}}}}
]
}
